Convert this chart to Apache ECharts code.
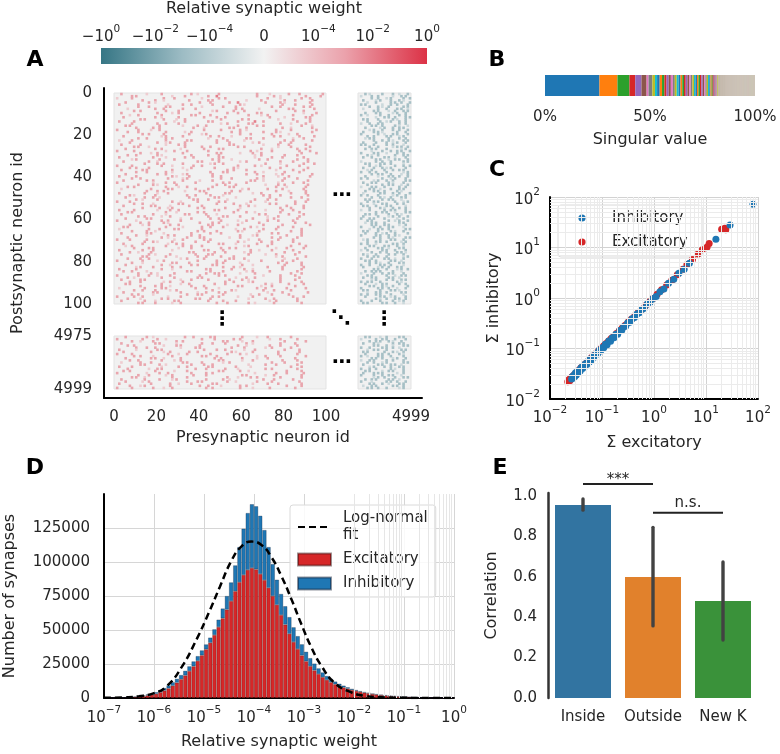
<!DOCTYPE html>
<html>
<head>
<meta charset="utf-8">
<script src="https://cdn.jsdelivr.net/npm/echarts@6.0.0/dist/echarts.min.js"></script>
<style>
html,body{margin:0;padding:0;background:#ffffff;}
#chart{width:780px;height:754px;}
</style>
</head>
<body>
<div id="chart"></div>
<script>
// ================= DATA =================
// ---- Panel A: colorbar tick labels ----
const colorbarTicks = ['−10⁰', '−10⁻²', '−10⁻⁴', '0', '10⁻⁴', '10⁻²', '10⁰'];
// ---- Panel A: sparse weight matrix ----
// Each row: "<presyn 0..99>|<presyn 4975..4999>". Letter a..z = skip 1..26 empty cells,
// digit = one non-zero synapse of that strength (left part excitatory, right part inhibitory).
const topRows = [
"c2k1f2m2b1i2q2e1h2d2j2|c2a1e2d2b1c2","h2a2p1e2j2c3r2g2b1k2f2|a1d2b2f1c2a2","a1f2n2d2l1g2b2s2e1i2c2|f2b2c1a2e2b2",
"m2e2c1k2h2a2o1f2j2d2g2|b2e1a2d2c2a1","e2j2b1t2d2h2c3l2f2a1k2|d1c2f2a2b2c2","b2h2m1f2c2i2l2a1q2e2g2|a2a2g1c2b2d2",
"k2d2g2a2n1i2e2p2c2j2b2|e2c2a1b2f2a2","f1l2c2h2e2r2b2g1m2a2i2|b1f2c2d2a2b1","i2b2k2e2o1a2g2d2n2h2c2|g2a2d1b2c2a2",
"c2p2f1b2i2l2d2h2a2s1e2|c2d2a2e1a2c2","g1c2j2m2a2f2q2e1b2k2h2|a2b1e2c2d2b2","d2n2b1g2k2e2c2t2f1i2a2|h1c2a2b2d2a2",
"l2a2h2e1c2p2i2b2m1f2g2|b2a2d2f2a1c2","b2f2r1d2j2a2k2g3c2o2e2|d2e2b1a2c2b2","h2k2c2e2s1b2i2a2l2d1f2|a1c2c2a2g2b2",
"e2a2m2j1f2c2n2h2b2q2d1|f2a2b2e2a1c1","j2g2b2o2d1k2a2e2p2c1i2|c2f1a2c2b2a2","a2i2e1c2t2g2h2b1m2f2k2|e1a2c2d2b2c2",
"f2d2l2h1b2r2c2j2e2a1n2|b2d2a2a1f2c2","m2b2f2k2e1a2o2d2i2g1c2|a2g2b1c2a2d2","d2q1a2g2l2c2e1s2b2h2f2|d2b2e2a2c1a2",
"k2c2h2b2p1f2j2a2e2m1d2|c1a2a2f2d2b2","b1e2o2i2a2k2d2g1r2c2h2|g2c2b2a1d2a2","g2l2c1a2f2n2e2j1b2i2d2|b2e2d2b1a2c2",
"c2h2k1e2b2t2a2m1f2d2g2|a2a2c2e2b2d1","i2a2d1p2g2c2l2b2o1e2h2|e2c2f1a2a2b2","e2m2b2h1j2f2a2q2d1k2c2|c2b2a2d2f1a2",
"a2g2n1c2e2i2s2b1f2l2d2|f1d2c2b2a2c2","l2d1b2k2o2a2h1e2c2r2f2|a2e2a2c1d2b2","f2c2i2a1m2g2d2p1b2j2e2|d2a1b2g2c2a2",
"b2o2e1h2c2k2a2n1g2d2i2|b2c2e2a2b1d2","h1a2j2f2q2b2e1l2c2m2d2|h2a2c1b2a2c2","d2k2c1r2a2g2i1b2o2e2f2|a1f2b2c2e2a2",
"n2e2b2h2l1a2c2s2f1j2d2|c2a2d2a2b2e1","a2f2m2d1i2c2p2g2b1k2e2|e2b1a2f2c2b2","g2b2e2o1c2j2h2a1n2d2l2|b2d2c2a1a2f2",
"c2i2a2k2f1r2b2e2m1g2d2|d1a2e2c2b2a2","j2d2h2b1q2e2a2l2c1i2f2|a2c2b2d2g1a2","e2n2c2g1a2k2o2d2h1b2m2|f2b2a2c2d1b2",
"b2g2p2a1e2j2c2s2f1d2i2|c2e1d2a2b2c2","h2c2l2f1a2o2d2k2b1i2e2|a2b2f2c1a2d2","d2j2b2m2g1e2q2a2c1h2k2|g1a2c2b2e2a2",
"a2p1e2c2i2l2b2g2n1f2d2|b2c2a2e2a1d2","k2f2a1h2r2c2d2m1e2b2j2|d2f2b2a2c1b2","f2b2n2e1c2k2g2a2s2d1h2|a1d2a2c2f2b2",
"c1m2g2a2j2e2o1b2h2f2i2|e2a2b1d2c2a2","o2d2b2i1f2a2l2c2p2e1g2|c2c2a2b2e2a1","b2k2e1d2q2h2a2j1c2m2f2|b1g2a2c2b2d2",
"g2a1i2n2c2f2e1r2b2d2l2|a2b2d2f1a2c2","e2h2c2b1m2k2a2g1o2i2d2|f2c2a1b2d2a2","j2b1f2p2a2d2h1l2e2c2n2|c2a2e2b2a2c1",
"a2e2s2c1g2i2b2k2f1m2d2|d2b2a2g2c1a2","i2c2d1k2a2o2g2e1j2b2h2|a2e1c2a2d2b2","d2l2a2f1h2e2q2c2b1n2g2|b2a2c2d2a2f1",
"m2g2c1a2k2b2i2f1r2d2e2|e2d2a1c2b2b2","b2f2j1e2c2p2a2h2l1g2d2|a1c2f2b2a2d2","f2a2o2d1i2b2m2e2c1k2h2|h2b2a2c1d2a2",
"c2n2e1h2a2g2d1s2b2j2f2|c2a2b2e2c2a1","k2b2g1c2q2f2a2e2l1d2i2|b2f2d1a2b2c2","e2i2a2m1d2h2c2o2f1b2j2|a2c2a2d2e1b2",
"a2h1k2b2e2r2g1c2i2d2f2|d2a2g2b1a2c2","l2c2f2a1n2e2b2j1g2p2d2|c1b2a2c2f2a2","g2e1b2i2c2m2a2f1d2k2h2l2|f2a2c2a2d1b2",
"d2a2q2g1h2c2e2l2b1i2f2|a2e2b2c2a2d1","b1m2d2f2a2j2o1c2h2e2k2|e1c2a2b2g2a2","h2f2c1s2b2e2i2a1g2n2d2|b2a2d2e2a1c2",
"c2k2a2e1l2h2d2p1f2b2j2|c2d2b1a2c2e2","j2d1i2b2g2c2r2e1a2m2f2|a2f2a2c2b2a1","f2o2b1h2e2a2k1d2n2c2g2|g2b2c2a1e2a2",
"a2e2g2l1c2i2b2q1d2h2f2|b1a2e2d2a2c2","n2c2a1f2j2e2m2b1g2d2i2|d2c2a2b2f1a2","d2h2k1c2b2p2a2e1i2f2l2|a2b2c1g2a2b2",
"e1b2o2g2c2d2s1a2h2j2f2|e2a2d2a2c2b1","i2f2a2k1e2m2c2b2r1d2g2|c2e2a2b1d2a2","b2j2d2h1n2a2f2l2c1e2i2|a1b2f2a2c2d2",
"g2c1e2q2a2i2d2h1b2o2f2|f2c2b2d2a2a1","c2l2b1f2k2e2a2p2g1d2h2|b2a1c2e2b2c2","m2a2h2d1i2c2f2e2s1b2j2|d2b2a2c2g1a2",
"f2e2c2n1b2g2k2a2d2r1e2|a2d2e2a2b1c2","a2k2f1b2o2h2c2j1e2i2d2|c2a2b2f2a2b1","h2d1m2a2e2l2b2g1q2c2f2|e2b2a1c2d2a2",
"e2p2c1i2b2f2a2k2d1n2g2|a2c2d2a2b2e1","j1a2e2h2c2s2d2b1l2f2i2|b2f1a2b2c2a2","b2g2k2d1o2a2i2e2c1m2h2|g2a2c2d1a2b2",
"d2c2f1r2a2h2e2j1b2g2l2|c2b2a2a2e2c1","k2e2b1g2n2c2a2i1f2p2d2|a1e2c2b2a2d2","a2i2d2c1e2m2h2b2q1g2f2|d2a2f2c1b2a2",
"f2b1l2e2j2a2o1d2c2k2h2|b2c2a2e2a2b1","c2h2a2p1d2g2i2e2b1n2f2|f1a2d2b2c2a2","g2d2j1b2e2s2c2f1a2l2i2|a2b2a2c2g2a1",
"e2a2n2h1c2k2d2r2b1g2f2|c2d1b2a2e2b2","l2f2b2c1i2e2o2a2h1d2j2|e2a2c2a1b2f2","b1k2g2a2m2d2e1q2c2i2h2|a2g2a2b2c1c2",
"i2c2e2f1b2p2h2a1l2d2g2|b2a2e2d2a2a1","d2m2a2j2g1c2e2b2s1f2k2|d1c2a2b2f2a2","h2b2f1o2d2a2i2l1c2e2g2|a2b2c2a2d2e1",
"a2g2c2k1e2n2b2h1f2r2d2|c2f2a2b1a2d2","f2e1i2b2l2a2d2q1g2c2j2|h2a1b2c2a2b2","c2j2d1h2a2m2f2e2o1b2i2|a2d2c2e2b1a2",
"k2a2e2g1c2p2d2i2b1h2l2|b2a2f2a2c2c1"
];
const bottomRows = [
"e2i2b1n2c2g2a2l2f1d2j2|c2a2d1b2e2a2","a2k2f2c1p2e2h2b2m1d2g2|a1f2b2a2c2d2","h2c1e2j2b2r2a2f1d2n2i2|e2b2a2c2a1c2",
"c2o2a2g1k2d2e2i2b1l2f2|b2d2a1f2b2a2","f2b2m1e2a2h2q2c1j2d2g2|g2a2c2b1d2a2","j2d2c2k1f2a2n2e2i1b2h2|a2c2e2a2b2b1",
"b2g1i2a2s2e2c2h1d2m2f2|d1b2a2c2f2a2","d2l2e1b2h2c2o2a1g2k2i2|b2a2g2c2a1b2","a2f2p2d1c2j2g2e2b1n2h2|c2e2a2b2d2a1",
"i2b2e1h2m2a2d2r1c2f2k2|a2b1d2a2c2e2","e2k2a2c1g2o2b2i2f1d2l2|f2a2b2d1a2c2","g2c2j2e1b2q2a2h1d2m2f2|a1c2a2e2b2d2",
"c1h2d2n2a2f2i1b2s2e2g2|d2b2c1a2g2a2","l2a2f2b1k2e2c2p1g2d2i2|b2f2a2c2a2b1","b2e2m1g2c2i2a2j2f1r2d2|e1a2d2b2c2a2",
"f2i1c2a2o2d2h2e1l2b2k2|a2c2b2f2a1c2","d2b2k2h1e2n2a2g2c1q2f2|c2a2e1b2a2d2","a2m1e2c2j2f2b2s1i2d2g2|b2d2a2a2f1b2",
"k2d2g1b2i2e2p2a2h1c2l2|a2e2c2b2a2c1","h2a2c1l2f2r2d1e2b2j2i2|g1a2b2d2c2a2","c2j2f2e1a2m2g2b1o2d2h2|c2b2a2e2a2b1",
"e2g1b2q2d2a2k2c1i2f2l2|a2d1f2a2b2c2","b2n2h2c1e2i2a2p1f2d2j2|e2a2c2b1d2a2","g2d1a2k2m2c2e1h2b2r2f2|b1c2a2g2a2b2",
"a2f2i2d1c2o2b2l2e1g2k2|d2a2b2c2e1a2"
];
const tailIds = [4975, 4999];

// ---- Panel B: singular values (share of total, estimated) ----
const singularValues = [25.4, 8.4, 5.6, 2.7, 2.9, 2.4, 0.9, 1.8, 1.2, 1.0,
  1.2, 1.1, 1.1, 1.0, 1.0, 1.0, 0.95, 0.9, 0.9, 0.9, 0.85, 0.85, 0.8, 0.8, 0.8, 0.8, 0.75, 0.75, 0.75, 0.7,
  0.7, 0.7, 0.7, 0.65, 0.65, 0.65, 0.6, 0.6, 0.6, 0.6,
  0.55, 0.53, 0.5, 0.48, 0.46, 0.44, 0.42, 0.41, 0.4, 0.38, 0.37, 0.36, 0.34, 0.33, 0.32, 0.3, 0.29, 0.28, 0.26, 0.25,
  0.20, 0.20, 0.19, 0.19, 0.18, 0.18, 0.18, 0.17, 0.17, 0.17, 0.16, 0.16, 0.16, 0.15, 0.15, 0.15, 0.15, 0.14, 0.14, 0.14,
  0.14, 0.13, 0.13, 0.13, 0.13, 0.12, 0.12, 0.12, 0.12, 0.12, 0.11, 0.11, 0.11, 0.11, 0.11, 0.11, 0.10, 0.10, 0.10, 0.10,
  0.10, 0.10, 0.10, 0.10, 0.10, 0.10, 0.10, 0.10, 0.10, 0.10, 0.09, 0.09, 0.09, 0.09, 0.09, 0.09, 0.09, 0.09, 0.09, 0.09,
  0.09, 0.09, 0.09, 0.09, 0.09, 0.09, 0.09, 0.09, 0.09, 0.09, 0.08, 0.08, 0.08, 0.08, 0.08, 0.08, 0.08, 0.08, 0.08, 0.08,
  0.08, 0.08, 0.08, 0.08, 0.08, 0.08, 0.08, 0.08, 0.08, 0.08, 0.07, 0.07, 0.07, 0.07, 0.07, 0.07, 0.07, 0.07, 0.07, 0.07,
  0.07, 0.07, 0.07, 0.07, 0.07, 0.07, 0.07, 0.07, 0.07, 0.07, 0.06, 0.06, 0.06, 0.06, 0.06, 0.06, 0.06, 0.06, 0.06, 0.06,
  0.06, 0.06, 0.06, 0.06, 0.06, 0.06, 0.06, 0.06, 0.06, 0.06, 0.05, 0.05, 0.05, 0.05, 0.05, 0.05, 0.05, 0.05, 0.05, 0.05,
  0.05, 0.05, 0.05, 0.05, 0.05, 0.05, 0.05, 0.05, 0.05, 0.05];

// ---- Panel C: summed weights per neuron ----
const cInhibitory = [[0.026,0.025],[0.027,0.028],[0.028,0.026],[0.029,0.030],[0.030,0.028],[0.031,0.033],[0.032,0.030],
  [0.034,0.035],[0.035,0.033],[0.037,0.038],[0.038,0.036],[0.040,0.042],[0.042,0.040],[0.044,0.046],[0.046,0.043],
  [0.048,0.050],[0.051,0.048],[0.054,0.056],[0.057,0.054],[0.060,0.063],[0.064,0.060],[0.068,0.071],[0.072,0.068],
  [0.077,0.080],[0.082,0.078],[0.088,0.092],[0.094,0.089],[0.100,0.104],[0.108,0.103],[0.116,0.121],[0.125,0.119],
  [0.135,0.140],[0.146,0.139],[0.158,0.164],[0.170,0.163],[0.185,0.192],[0.200,0.192],[0.22,0.228],[0.24,0.231],
  [0.26,0.27],[0.285,0.275],[0.31,0.32],[0.34,0.33],[0.38,0.39],[0.42,0.41],[0.47,0.48],[0.52,0.51],[0.58,0.59],
  [0.65,0.63],[0.74,0.76],[0.84,0.82],[0.96,0.98],[1.1,1.07],[1.3,1.33],[1.55,1.5],[1.9,1.95],[2.4,2.35],[3.0,3.1],
  [3.8,3.7],[4.8,4.9],[15.5,14.5],[29,28],[80,72]];
const cExcitatory = [[0.022,0.022],[0.023,0.024],[0.024,0.023],[0.025,0.026],[0.026,0.027],[0.028,0.029],[0.030,0.031],
  [0.033,0.034],[0.036,0.037],[0.039,0.041],[0.043,0.045],[0.047,0.049],[0.052,0.054],[0.057,0.059],[0.063,0.066],
  [0.070,0.073],[0.078,0.081],[0.087,0.091],[0.097,0.101],[0.108,0.113],[0.12,0.126],[0.134,0.14],[0.15,0.157],
  [0.168,0.175],[0.19,0.198],[0.215,0.225],[0.245,0.255],[0.28,0.29],[0.32,0.335],[0.37,0.385],[0.43,0.45],[0.5,0.52],
  [0.58,0.6],[0.68,0.7],[0.8,0.83],[0.95,0.98],[1.15,1.18],[1.4,1.45],[1.75,1.8],[2.2,2.25],[2.8,2.9],[3.6,3.7],
  [4.3,4.6],[5.5,5.8],[7.0,7.4],[8.5,9.0],[10.5,10.2],[11.5,12.0],[20,23],[23,24],[24,22.5]];
const cLegendNames = ['Inhibitory', 'Excitatory'];

// ---- Panel D: histogram, 12 log bins per decade from 1e-7 to 1e0 ----
const dRangeExp = [-7, 0];
const dBinsPerDecade = 12;
const dExcitatory = [60,90,130,190,260,350,480,750,1100,1500,
  1900,2400,3100,4200,5500,7100,9000,11300,13800,16600,
  19800,23300,27300,31400,35800,40600,46300,52200,58600,65000,
  71300,78500,85200,90500,94200,95600,94600,91200,86700,81000,
  75000,68500,61000,54000,47200,41200,36000,31300,27000,23400,
  20300,17600,15300,13300,11600,10100,8800,7700,6800,5900,
  5200,4500,3900,3400,2900,2500,2100,1800,1500,1300,
  1100,900,750,620,500,400,320,250,190,140,
  100,70,45,25];
const dInhibitory = [20,30,45,60,85,115,160,230,330,470,
  700,900,1200,1400,1800,2200,2600,2800,3100,3400,
  3500,3600,3500,3600,3600,3800,4200,5400,7200,10000,
  13700,19000,25800,34000,41800,46900,46400,42800,36800,30000,
  23500,18500,15500,13500,12300,10800,9500,8200,7000,5900,
  5000,4200,3500,2900,2400,2000,1700,1400,1100,900,
  700,600,500,400,300,300,300,200,200,150,
  150,150,100,80,60,50,40,30,20,15,
  10,8,5,3];
const dFitLog10 = [-7.0,-6.6,-6.3,-6.0,-5.75,-5.45,-5.15,-4.9,-4.68,-4.45,-4.25,-4.05,-3.85,-3.65,-3.45,-3.25,-3.05,-2.85,-2.65,-2.4,-2.1,-1.8,-1.45,-1.0,-0.5,0];
const dFitCount = [100,450,1300,3600,8500,22500,43000,63000,82000,101000,111500,115000,112500,103500,89500,72500,54000,37000,23500,11500,4800,1700,550,120,15,2];
const dYTicks = [0, 25000, 50000, 75000, 100000, 125000];

// ---- Panel E ----
const eCategories = ['Inside', 'Outside', 'New K'];
const eMeans = [0.955, 0.599, 0.48];
const eCiLow = [0.93, 0.357, 0.287];
const eCiHigh = [0.985, 0.845, 0.673];
const eBrackets = [[0, 1, 1.06], [1, 2, 0.917]];
const eBracketText = ['***', 'n.s.'];
const eYTicks = [0, 0.2, 0.4, 0.6, 0.8, 1.0];

// ================= HELPERS =================
const FONT = 'DejaVu Sans';
const INK = '#262626';
const TAB10 = ['#1f77b4','#ff7f0e','#2ca02c','#d62728','#9467bd','#8c564b','#e377c2','#7f7f7f','#bcbd22','#17becf'];
const BLEND = '#b4a696'; // sub-pixel singular-value slivers blend to this tone
const FROMSUP = {'⁻':'−','⁰':'0','¹':'1','²':'2','³':'3','⁴':'4','⁵':'5','⁶':'6','⁷':'7','⁸':'8','⁹':'9'};
// rich-text power-of-ten label: "{b|10}{s|−2}"
function richPow(base, exp) { return '{b|' + base + '}{s|' + exp + '}'; }
function pow10Label(v) {
  const e = Math.round(Math.log10(v));
  return richPow('10', String(e).replace('-', '−'));
}
function richFromUnicode(str) {
  const m = str.match(/^(.*?10)([⁻⁰¹²³⁴⁵⁶⁷⁸⁹]+)$/);
  if (!m) return '{b|' + str + '}';
  return richPow(m[1], m[2].split('').map(c => FROMSUP[c]).join(''));
}
const RICH = {
  b: {fontSize: 15, fontFamily: FONT, color: INK, lineHeight: 21, verticalAlign: 'bottom'},
  s: {fontSize: 10.5, fontFamily: FONT, color: INK, lineHeight: 12, verticalAlign: 'top'}
};
const plain = v => String(v);
function decodeRow(s, width) {
  const out = []; let c = 0;
  for (const ch of s) {
    if (ch >= 'a' && ch <= 'z') c += ch.charCodeAt(0) - 96;
    else if (ch >= '1' && ch <= '9') { if (c < width) out.push([c, +ch]); c++; }
  }
  return out;
}
const lbl = (extra) => Object.assign({color: INK, fontSize: 15, fontFamily: FONT}, extra || {});
const nameStyle = {color: INK, fontSize: 16, fontFamily: FONT};
const blackLine = {show: true, onZero: false, lineStyle: {color: '#000', width: 2}};
const noLine = {show: false};

// Panel A cells
const A1 = [], A2 = [], A3 = [], A4 = [];
topRows.forEach((row, r) => {
  const [m, i] = row.split('|');
  decodeRow(m, 100).forEach(([c, v]) => A1.push([c, r, v]));
  decodeRow(i, 25).forEach(([c, v]) => A2.push([c, r, -v]));
});
bottomRows.forEach((row, r) => {
  const [m, i] = row.split('|');
  decodeRow(m, 100).forEach(([c, v]) => A3.push([c, r, v]));
  decodeRow(i, 25).forEach(([c, v]) => A4.push([c, r, -v]));
});
const idx100 = Array.from({length: 100}, (_, i) => String(i));
const idxTail = Array.from({length: 25}, (_, i) => String(tailIds[0] + i));

// Panel B segments
const svTotal = singularValues.reduce((a, b) => a + b, 0);
let svAcc = 0;
const bData = singularValues.map((v, i) => {
  const s = svAcc / svTotal * 100; svAcc += v;
  return [s, svAcc / svTotal * 100, i, 0, v];
});

// Panel D bins
const nBins = (dRangeExp[1] - dRangeExp[0]) * dBinsPerDecade;
const dBinCats = Array.from({length: nBins}, (_, i) => String(i));
const dFit = dFitLog10.map((e, i) => [Math.pow(10, e), dFitCount[i]]);

// minor log grid positions (2..9 x 10^e)
function minorTicks(e0, e1) {
  const out = [];
  for (let e = e0; e < e1; e++) for (let k = 2; k <= 9; k++) out.push(k * Math.pow(10, e));
  return out;
}
const cMinor = minorTicks(-2, 2);
const dMinor = minorTicks(-7, 0);

// ================= GRIDS & AXES =================
const blockGrid = {show: true, backgroundColor: '#f1f1f1', borderColor: '#e3e3e3', borderWidth: 1};
const grids = [
  Object.assign({left: 114, top: 93, width: 212, height: 211}, blockGrid),
  Object.assign({left: 358, top: 93, width: 53, height: 211}, blockGrid),
  Object.assign({left: 114, top: 336, width: 212, height: 53}, blockGrid),
  Object.assign({left: 358, top: 336, width: 53, height: 53}, blockGrid),
  {left: 104, top: 88, width: 318, height: 310},
  {left: 101, top: 48, width: 326, height: 16, show: true, borderWidth: 0,
   backgroundColor: {type: 'linear', x: 0, y: 0, x2: 1, y2: 0, colorStops: [
     {offset: 0, color: '#367685'}, {offset: 0.25, color: '#9dbcc4'}, {offset: 0.5, color: '#f2f2f2'},
     {offset: 0.75, color: '#eba1ab'}, {offset: 1, color: '#dc3246'}]}},
  {left: 545, top: 75, width: 210, height: 21},
  {left: 550, top: 197, width: 208, height: 202},
  {left: 104, top: 494, width: 350, height: 204},
  {left: 548, top: 493, width: 210, height: 205}
].map(g => Object.assign({containLabel: false, outerBoundsMode: 'none'}, g));

const hiddenCat = (grid, data, inverse) => ({gridIndex: grid, type: 'category', data, show: false, inverse: !!inverse});

const xAxes = [
  hiddenCat(0, idx100), hiddenCat(1, idxTail), hiddenCat(2, idx100), hiddenCat(3, idxTail),
  // 4: A bottom-left labels
  {gridIndex: 2, type: 'value', min: 0, max: 100, interval: 20, position: 'bottom', offset: 9,
   axisLine: noLine, axisTick: noLine, splitLine: noLine, axisLabel: lbl({margin: 12, formatter: plain})},
  // 5: A bottom-right label
  {gridIndex: 3, type: 'value', min: tailIds[0], max: tailIds[1], position: 'bottom', offset: 9,
   axisLine: noLine, axisTick: noLine, splitLine: noLine,
   axisLabel: lbl({margin: 12, customValues: [tailIds[1]], formatter: plain})},
  // 6: A frame
  {gridIndex: 4, type: 'value', min: 0, max: 1, position: 'bottom', axisLine: blackLine, axisTick: noLine, axisLabel: noLine, splitLine: noLine,
   name: 'Presynaptic neuron id', nameLocation: 'middle', nameGap: 32, nameTextStyle: nameStyle},
  // 7: colorbar
  {gridIndex: 5, type: 'category', data: colorbarTicks, boundaryGap: false, position: 'top',
   axisLine: noLine, axisTick: noLine, axisLabel: lbl({margin: 3, interval: 0, formatter: richFromUnicode, rich: RICH}),
   name: 'Relative synaptic weight', nameLocation: 'middle', nameGap: 31, nameTextStyle: nameStyle},
  // 8: B
  {gridIndex: 6, type: 'value', min: 0, max: 100, interval: 50, position: 'bottom', axisLine: noLine, axisTick: noLine, splitLine: noLine,
   axisLabel: lbl({margin: 14, formatter: '{value}%'}),
   name: 'Singular value', nameLocation: 'middle', nameGap: 36, nameTextStyle: nameStyle},
  // 9: C
  {gridIndex: 7, type: 'log', logBase: 10, min: 0.01, max: 100, interval: 1, position: 'bottom', axisLine: blackLine, axisTick: noLine,
   axisLabel: lbl({margin: 6, formatter: pow10Label, rich: RICH}), splitLine: {show: true, lineStyle: {color: '#d2d2d2', width: 1}},
   name: 'Σ excitatory', nameLocation: 'middle', nameGap: 36, nameTextStyle: nameStyle},
  // 10: D bins
  {gridIndex: 8, type: 'category', data: dBinCats, show: false, boundaryGap: true, position: 'bottom'},
  // 11: D log
  {gridIndex: 8, type: 'log', logBase: 10, min: 1e-7, max: 1, interval: 1, position: 'bottom', axisLine: blackLine, axisTick: noLine,
   axisLabel: lbl({margin: 7, formatter: pow10Label, rich: RICH}), splitLine: {show: true, lineStyle: {color: '#d6d6d6', width: 1}},
   name: 'Relative synaptic weight', nameLocation: 'middle', nameGap: 36, nameTextStyle: nameStyle},
  // 12: E
  {gridIndex: 9, type: 'category', data: eCategories, position: 'bottom', axisLine: noLine, axisTick: noLine, splitLine: noLine,
   axisLabel: lbl({margin: 12, interval: 0})}
];

const yAxes = [
  hiddenCat(0, idx100, true), hiddenCat(1, idx100, true), hiddenCat(2, idxTail, true), hiddenCat(3, idxTail, true),
  // 4: A top labels
  {gridIndex: 0, type: 'value', min: 0, max: 100, interval: 20, inverse: true, position: 'left', offset: 10,
   axisLine: noLine, axisTick: noLine, splitLine: noLine, axisLabel: lbl({margin: 12, formatter: plain})},
  // 5: A bottom labels
  {gridIndex: 2, type: 'value', min: tailIds[0], max: tailIds[1], inverse: true, position: 'left', offset: 10,
   axisLine: noLine, axisTick: noLine, splitLine: noLine, axisLabel: lbl({margin: 12, customValues: tailIds, formatter: plain})},
  // 6: A frame
  {gridIndex: 4, type: 'value', min: 0, max: 1, position: 'left', axisLine: blackLine, axisTick: noLine, axisLabel: noLine, splitLine: noLine,
   name: 'Postsynaptic neuron id', nameLocation: 'middle', nameGap: 78, nameTextStyle: nameStyle},
  // 7: colorbar
  {gridIndex: 5, type: 'value', show: false},
  // 8: B
  {gridIndex: 6, type: 'category', data: ['sv'], show: false},
  // 9: C
  {gridIndex: 7, type: 'log', logBase: 10, min: 0.01, max: 100, interval: 1, position: 'left', axisLine: blackLine, axisTick: noLine,
   axisLabel: lbl({margin: 10, formatter: pow10Label, rich: RICH}), splitLine: {show: true, lineStyle: {color: '#d2d2d2', width: 1}},
   name: 'Σ inhibitory', nameLocation: 'middle', nameGap: 44, nameTextStyle: nameStyle},
  // 10: D
  {gridIndex: 8, type: 'value', min: 0, max: 150000, interval: 25000, position: 'left', axisLine: blackLine,
   axisTick: {show: false, customValues: dYTicks},
   axisLabel: lbl({margin: 14, customValues: dYTicks, formatter: plain}), splitLine: {show: true, lineStyle: {color: '#d6d6d6', width: 1}},
   name: 'Number of synapses', nameLocation: 'middle', nameGap: 86, nameTextStyle: nameStyle},
  // 11: E
  {gridIndex: 9, type: 'value', min: 0, max: 1.015, position: 'left', axisLine: {show: true, onZero: false, lineStyle: {color: '#333', width: 2.5}},
   axisTick: {show: false, customValues: eYTicks}, splitLine: noLine,
   axisLabel: lbl({margin: 11, customValues: eYTicks, formatter: v => v.toFixed(1)}),
   name: 'Correlation', nameLocation: 'middle', nameGap: 48, nameTextStyle: nameStyle}
];

const heat = (xi, data) => ({type: 'heatmap', xAxisIndex: xi, yAxisIndex: xi, data, itemStyle: {borderWidth: 0},
  emphasis: {disabled: true}, progressive: 0});
const minorMark = (vals, key) => vals.map(v => ({[key]: v}));

const series = [
  heat(0, A1), heat(1, A2), heat(2, A3), heat(3, A4),
  // 4: B
  {type: 'custom', name: 'sv', xAxisIndex: 8, yAxisIndex: 8, data: bData, encode: {x: [0, 1], y: 3},
   renderItem: (params, api) => {
     const a = api.coord([api.value(0), 0]); const b = api.coord([api.value(1), 0]);
     const h = api.size([0, 1])[1];
     const w = b[0] - a[0];
     return {type: 'rect', shape: {x: a[0], y: a[1] - h / 2, width: Math.max(w, 0.1), height: h},
       style: {fill: api.value(4) < 0.4 ? BLEND : TAB10[api.value(2) % 10]}};
   }},
  // 5,6: C
  {type: 'scatter', name: 'Excitatory', xAxisIndex: 9, yAxisIndex: 9, data: cExcitatory, symbolSize: 7,
   itemStyle: {color: '#d62728', opacity: 1}, z: 3},
  {type: 'scatter', name: 'Inhibitory', xAxisIndex: 9, yAxisIndex: 9, data: cInhibitory, symbolSize: 7,
   itemStyle: {color: '#1f77b4', opacity: 1}, z: 4},
  // 7: C minor grid
  {type: 'line', name: 'c-minor', xAxisIndex: 9, yAxisIndex: 9, data: [[1, 1]], symbol: 'none', lineStyle: {width: 0}, z: 1,
   markLine: {silent: true, symbol: ['none', 'none'], label: {show: false}, animation: false,
     lineStyle: {color: '#ebebeb', width: 1, type: 'solid'},
     data: minorMark(cMinor, 'xAxis').concat(minorMark(cMinor, 'yAxis'))}},
  // 8,9: D bars
  {type: 'bar', name: 'D:Excitatory', xAxisIndex: 10, yAxisIndex: 10, stack: 'h', data: dExcitatory,
   barCategoryGap: '0%', itemStyle: {color: '#d62728', borderColor: 'rgba(40,10,10,0.45)', borderWidth: 0.6}, z: 3},
  {type: 'bar', name: 'D:Inhibitory', xAxisIndex: 10, yAxisIndex: 10, stack: 'h', data: dInhibitory,
   barCategoryGap: '0%', itemStyle: {color: '#1f77b4', borderColor: 'rgba(10,20,40,0.45)', borderWidth: 0.6}, z: 3},
  // 10: D fit
  {type: 'line', name: 'D:Log-normal fit', xAxisIndex: 11, yAxisIndex: 10, data: dFit, smooth: true, symbol: 'none',
   showSymbol: false, lineStyle: {color: '#000', width: 2.5, type: [7, 4]}, itemStyle: {color: '#000'}, z: 5},
  // 11: D minor grid
  {type: 'line', name: 'd-minor', xAxisIndex: 11, yAxisIndex: 10, data: [[1e-3, 0]], symbol: 'none', lineStyle: {width: 0}, z: 1,
   markLine: {silent: true, symbol: ['none', 'none'], label: {show: false}, animation: false,
     lineStyle: {color: '#e6e6e6', width: 1, type: 'solid'}, data: minorMark(dMinor, 'xAxis')}},
  // 12: E bars
  {type: 'bar', name: 'corr', xAxisIndex: 12, yAxisIndex: 11, barWidth: '80%',
   data: eMeans.map((v, i) => ({value: v, itemStyle: {color: ['#3274a1', '#e1812c', '#3a923a'][i]}}))},
  // 13: E error bars
  {type: 'custom', name: 'ci', xAxisIndex: 12, yAxisIndex: 11, z: 4,
   data: eMeans.map((_, i) => [i, eCiLow[i], eCiHigh[i]]), encode: {x: 0, y: [1, 2]},
   renderItem: (params, api) => {
     const p1 = api.coord([api.value(0), api.value(1)]); const p2 = api.coord([api.value(0), api.value(2)]);
     return {type: 'line', shape: {x1: p1[0], y1: p1[1], x2: p2[0], y2: p2[1]},
       style: {stroke: '#424242', lineWidth: 3.4, lineCap: 'round'}};
   }},
  // 14: E brackets
  {type: 'custom', name: 'sig', xAxisIndex: 12, yAxisIndex: 11, z: 4, clip: false,
   data: eBrackets, encode: {x: [0, 1], y: 2},
   renderItem: (params, api) => {
     const p0 = api.coord([api.value(0), api.value(2)]); const p1 = api.coord([api.value(1), api.value(2)]);
     const t = eBracketText[params.dataIndex];
     const dy = t === '***' ? 4 : -2;
     return {type: 'group', children: [
       {type: 'line', shape: {x1: p0[0], y1: p0[1], x2: p1[0], y2: p1[1]}, style: {stroke: '#222', lineWidth: 2}},
       {type: 'text', x: (p0[0] + p1[0]) / 2, y: p0[1] + dy,
        style: {text: t, fill: INK, font: '15px "DejaVu Sans"', align: 'center', verticalAlign: 'bottom'}}
     ]};
   }}
];

const letter = (t, x, y) => ({type: 'text', x, y, z: 100,
  style: {text: t, fill: '#000', font: 'bold 22px "DejaVu Sans"', align: 'center', verticalAlign: 'middle'}});
const dots = (t, x, y) => ({type: 'text', x, y, z: 100,
  style: {text: t, fill: '#000', font: 'bold 20px "DejaVu Sans"', align: 'center', verticalAlign: 'middle'}});

// Panel C legend box
const cLegend = {type: 'group', z: 60, children: [
  {type: 'rect', shape: {x: 558, y: 205, width: 144, height: 52, r: 3},
   style: {fill: 'rgba(255,255,255,0.85)', stroke: '#dadada', lineWidth: 1}},
  {type: 'circle', shape: {cx: 582, cy: 218, r: 3.6}, style: {fill: '#1f77b4'}},
  {type: 'circle', shape: {cx: 582, cy: 242, r: 3.6}, style: {fill: '#d62728'}},
  {type: 'text', x: 612, y: 218, style: {text: cLegendNames[0], fill: INK, font: '15px "DejaVu Sans"', align: 'left', verticalAlign: 'middle'}},
  {type: 'text', x: 612, y: 242, style: {text: cLegendNames[1], fill: INK, font: '15px "DejaVu Sans"', align: 'left', verticalAlign: 'middle'}}
]};

const option = {
  animation: false,
  backgroundColor: '#ffffff',
  textStyle: {fontFamily: FONT, color: INK},
  grid: grids,
  xAxis: xAxes,
  yAxis: yAxes,
  visualMap: {type: 'continuous', show: false, min: -5, max: 5, seriesIndex: [0, 1, 2, 3], dimension: 2,
    inRange: {color: ['#367685', '#f2f2f2', '#dc3246']}},
  legend: [
    {data: [{name: 'D:Log-normal fit', itemStyle: {opacity: 0}}, {name: 'D:Excitatory', icon: 'rect'}, {name: 'D:Inhibitory', icon: 'rect'}],
     left: 290, top: 505, orient: 'vertical', itemWidth: 33, itemHeight: 12, itemGap: 7, padding: [5, 8, 5, 7],
     backgroundColor: 'rgba(255,255,255,0.85)', borderColor: '#dadada', borderWidth: 1, borderRadius: 3,
     formatter: n => n === 'D:Log-normal fit' ? 'Log-normal\nfit' : n.slice(2),
     textStyle: {fontSize: 15, lineHeight: 17, color: INK, fontFamily: FONT, padding: [0, 0, 0, 7]}, selectedMode: false}
  ],
  graphic: [
    letter('A', 35, 60), letter('B', 497, 60), letter('C', 497, 170), letter('D', 35, 468), letter('E', 500, 468),
    dots('⋯', 342, 196), dots('⋯', 342, 363), dots('⋮', 222, 320), dots('⋮', 384, 320), dots('⋱', 341, 319),
    cLegend
  ],
  series
};

const chart = echarts.init(document.getElementById('chart'), null, {renderer: 'canvas'});
chart.setOption(option);
</script>
</body>
</html>
